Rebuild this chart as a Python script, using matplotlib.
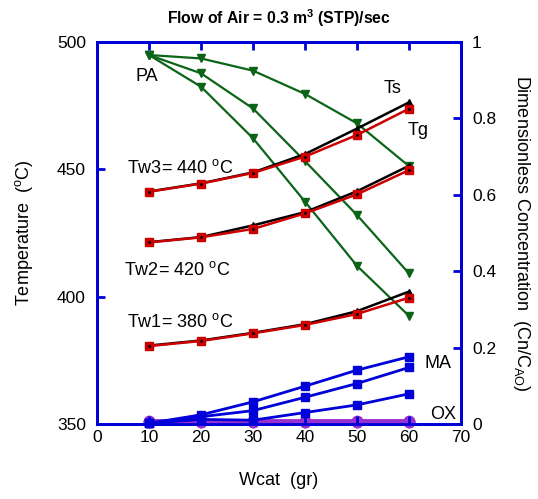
import matplotlib
matplotlib.use('Agg')
from matplotlib import pyplot as plt

plt.rcParams['font.family'] = ['Liberation Sans', 'DejaVu Sans']
plt.rcParams['mathtext.default'] = 'regular'

wcat = [10, 20, 30, 40, 50, 60]

# temperatures (left axis)
ts_380 = [380.8, 382.8, 385.8, 389.2, 394.3, 402.0]
tg_380 = [380.6, 382.6, 385.6, 388.9, 393.2, 399.6]
ts_420 = [421.4, 423.4, 428.0, 433.2, 441.4, 451.4]
tg_420 = [421.3, 423.3, 426.6, 432.7, 440.2, 449.7]
ts_440 = [441.3, 444.5, 448.8, 456.0, 466.0, 476.3]
tg_440 = [441.2, 444.4, 448.6, 455.0, 463.5, 473.8]

# concentrations (right axis)
pa_380 = [0.966, 0.957, 0.925, 0.864, 0.787, 0.675]
pa_420 = [0.966, 0.918, 0.826, 0.688, 0.547, 0.394]
pa_440 = [0.966, 0.883, 0.748, 0.582, 0.414, 0.283]
ma_380 = [0.002, 0.012, 0.010, 0.030, 0.050, 0.079]
ma_420 = [0.002, 0.019, 0.035, 0.070, 0.106, 0.148]
ma_440 = [0.002, 0.024, 0.058, 0.099, 0.141, 0.176]
ox_380 = [0.005, 0.005, 0.005, 0.005, 0.005, 0.005]
ox_420 = [0.006, 0.006, 0.006, 0.006, 0.006, 0.006]
ox_440 = [0.007, 0.007, 0.007, 0.007, 0.007, 0.007]

blue = '#0000d8'
green = '#0b6418'
red = '#cc0000'
purple = '#9a2fd0'

fig = plt.figure(figsize=(5.38, 4.99), dpi=100)
ax = fig.add_axes([0.1803, 0.1503, 0.6766, 0.7655])
ax2 = ax.twinx()

# concentrations
for pa in [pa_380, pa_420, pa_440]:
    ax2.plot(wcat, pa, color=green, lw=1.6, marker='v', ms=6)
for ox in [ox_380, ox_420, ox_440]:
    ax2.plot(wcat, ox, color=purple, lw=3.5, marker='o', ms=6,
             mfc='none', mew=2.5, clip_on=False, zorder=3)
for ma in [ma_380, ma_420, ma_440]:
    ax2.plot(wcat, ma, color=blue, lw=2.0, marker='s', ms=6,
             clip_on=False, zorder=3.5)

# temperatures
for ts, tg in [(ts_380, tg_380), (ts_420, tg_420), (ts_440, tg_440)]:
    ax.plot(wcat, ts, color='black', lw=1.8, marker='^', ms=5)
    ax.plot(wcat, tg, color=red, lw=1.8, marker='s', ms=6)
    ax.plot(wcat, tg, color='black', ls='none', marker='.', ms=2)

ax.set_zorder(ax2.get_zorder() + 1)
ax.patch.set_visible(False)

ax.set_xlim(0, 70)
ax.set_ylim(350, 500)
ax.set_xticks(range(0, 71, 10))
ax.set_yticks([350, 400, 450, 500])
ax2.set_ylim(0, 1)
ax2.set_yticks([0, 0.2, 0.4, 0.6, 0.8, 1])
ax2.set_yticklabels(['0', '0.2', '0.4', '0.6', '0.8', '1'])

for a in [ax, ax2]:
    for s in a.spines.values():
        s.set_color(blue)
        s.set_linewidth(2)
ax.tick_params(axis='x', direction='in', color=blue, width=2, length=6,
               top=True, labelsize=12.5, pad=4)
ax.tick_params(axis='y', direction='in', color=blue, width=2, length=6,
               labelsize=12.5, pad=8)
ax2.tick_params(axis='y', direction='in', color=blue, width=2, length=6,
                labelsize=12.5, pad=8)

ax.set_xlabel('Wcat  (gr)', fontsize=13, labelpad=20)
ax.set_ylabel('Temperature  ($^o$C)', fontsize=13, labelpad=16)
ax2.set_ylabel('Dimensionless Concentration  (Cn/C$_{AO}$)', fontsize=13,
               rotation=270, labelpad=26)
ax.set_title('Flow of Air = 0.3 m$^3$ (STP)/sec', fontsize=11.3,
             fontweight='bold', pad=13)

ax.text(9.6, 486.3, 'PA', fontsize=13, ha='center', va='center')
ax.text(56.9, 481.9, 'Ts', fontsize=13, ha='center', va='center')
ax.text(61.7, 465.4, 'Tg', fontsize=13, ha='center', va='center')
ax.text(5.8, 450.5, 'Tw3= 440 $^o$C', fontsize=13, va='center')
ax.text(5.2, 410.5, 'Tw2= 420 $^o$C', fontsize=13, va='center')
ax.text(5.8, 390.0, 'Tw1= 380 $^o$C', fontsize=13, va='center')
ax.text(63.0, 373.6, 'MA', fontsize=13, va='center')
ax.text(64.0, 353.6, 'OX', fontsize=13, va='center')

fig.savefig('out.png', dpi=100)
